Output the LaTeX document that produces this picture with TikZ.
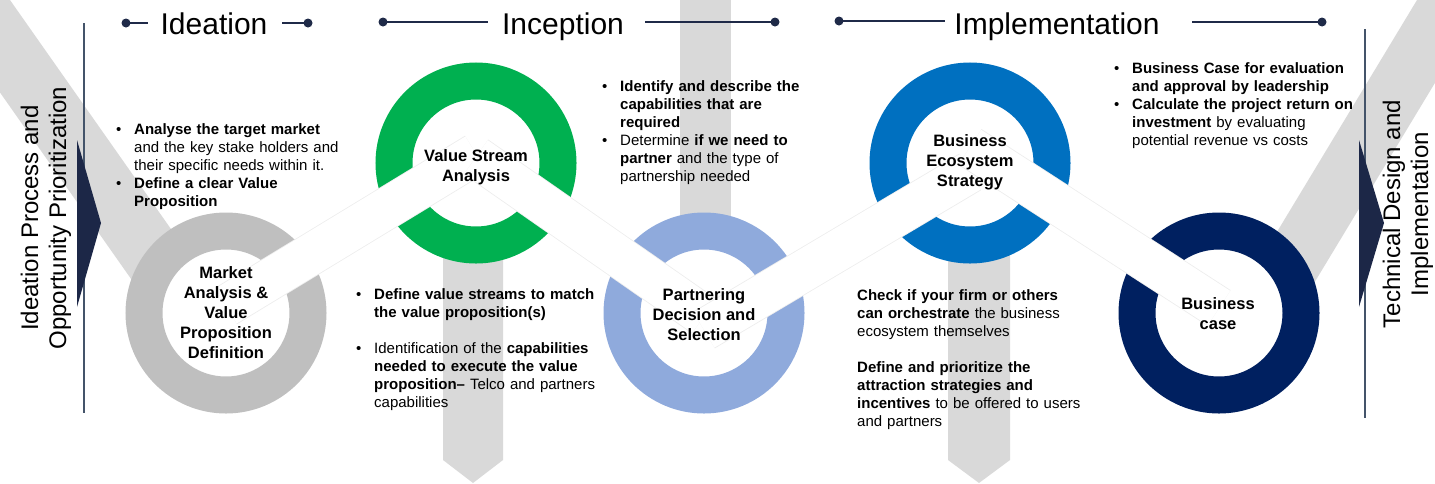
\documentclass[tikz,border=0pt]{standalone}
\usepackage{fontspec}
\setmainfont{Liberation Sans}
\usetikzlibrary{calc}
\usetikzlibrary{positioning}

\definecolor{bandgray}{HTML}{D9D9D9}
\definecolor{ringgray}{HTML}{BFBFBF}
\definecolor{ringgreen}{HTML}{00B050}
\definecolor{ringlight}{HTML}{8FAADC}
\definecolor{ringblue}{HTML}{0070C0}
\definecolor{ringnavy}{HTML}{002060}
\definecolor{navyline}{HTML}{1F2A48}
\definecolor{slateline}{HTML}{44546A}
\definecolor{arrownavy}{HTML}{1C2747}

\newcommand{\bitem}{\noindent\hangindent=18pt\hangafter=1\makebox[18pt][l]{\textbullet}}

\begin{document}
\begin{tikzpicture}
	[x=1pt,y=-1pt,
	every node/.style={inner sep=0pt},
	ringnode/.style={circle, draw=#1, line width=37pt, fill=white, minimum size=164pt},
	ringlabel/.style={font=\fontsize{16.5}{20}\selectfont\bfseries, align=center},
	bullets/.style={anchor=north west, text width=300pt, font=\fontsize{15}{18}\selectfont},
	phase/.style={anchor=base, font=\fontsize{30}{36}\selectfont},
	sidetext/.style={rotate=90, align=center, font=\fontsize{24}{28}\selectfont},
	strip/.style={draw=black!7, line width=0.8pt, double=white, double distance=41pt},
	hline/.style={draw=navyline, line width=1.5pt},
	hdot/.style={circle, fill=navyline, minimum size=9pt},
	sep/.style={draw=slateline, line width=2pt}]
	\useasboundingbox (0,0) rectangle (1435,483);
	\clip (0,0) rectangle (1435,483);

	% gray background bands
	\fill[bandgray] (-65,0) -- (10,0) -- (230,313) -- (155,313) -- cycle;
	\fill[bandgray] (443,163) -- (443,460) -- (473,483) -- (503,460) -- (503,163) -- cycle;
	\fill[bandgray] (680,-1) rectangle (731,313);
	\fill[bandgray] (948,163) -- (948,460) -- (979,483) -- (1010,460) -- (1010,163) -- cycle;
	\fill[bandgray] (1228,313) -- (1417,0) -- (1485,0) -- (1296,313) -- cycle;

	% rings
	\node[ringnode=ringgray] (market) at (226,313) {};
	\node[ringnode=ringgreen] (stream) at (476,163) {};
	\node[ringnode=ringlight] (partner) at (704,313) {};
	\node[ringnode=ringblue] (eco) at (970,163) {};
	\node[ringnode=ringnavy] (bcase) at (1219,313) {};

	% white strips between the rings
	\draw[strip] ($(market)+(0,-7)$) -- ($(stream)+(0,-9)$);
	\draw[strip] ($(stream)+(0,-6)$) -- ($(partner)+(0,3)$);
	\draw[strip] ($(partner)+(0,17)$) -- ($(eco)+(0,9)$);
	\draw[strip] ($(eco)+(0,-16)$) -- ($(bcase)+(0,-5)$);

	\node[ringlabel] (marketlbl) at (226,313) {Market\\Analysis \&\\Value\\Proposition\\Definition};
	\node[ringlabel] (streamlbl) at (476,167) {Value Stream\\Analysis};
	\node[ringlabel] (partnerlbl) at (704,315) {Partnering\\Decision and\\Selection};
	\node[ringlabel] (ecolbl) at (970,162) {Business\\Ecosystem\\Strategy};
	\node[ringlabel] (bcaselbl) at (1218,314) {Business\\case};

	% side markers
	\draw[sep] (84,23) -- (84,413);
	\draw[sep] (1365,29) -- (1365,418);
	\fill[arrownavy] (77,140) -- (101,223) -- (77,307) -- cycle;
	\fill[arrownavy] (1359,140) -- (1384,223) -- (1359,307) -- cycle;
	\node[sidetext] (ideaside) at (46,218) {Ideation Process and\\Opportunity Prioritization};
	\node[sidetext] (techside) at (1408,214) {Technical Design and\\Implementation};

	% phase headers
	\node[phase] (ideation) at (214,34) {Ideation};
	\node[phase] (inception) at (563,34) {Inception};
	\node[phase] (implementation) at (1057,34) {Implementation};
	\node[hdot] (ideaA) at (126,23) {};
	\node[hdot] (ideaB) at (308,23) {};
	\node[hdot] (incA) at (383,22) {};
	\node[hdot] (incB) at (775,22) {};
	\node[hdot] (implA) at (839,21) {};
	\node[hdot] (implB) at (1322,22) {};
	\coordinate (ideaAend) at (148,23);
	\coordinate (ideaBend) at (282,23);
	\coordinate (incAend) at (488,22);
	\coordinate (incBend) at (645,22);
	\coordinate (implAend) at (945,21);
	\coordinate (implBend) at (1192,22);
	\draw[hline] (ideaA.center) -- (ideaAend);
	\draw[hline] (ideaBend) -- (ideaB.center);
	\draw[hline] (incA.center) -- (incAend);
	\draw[hline] (incBend) -- (incB.center);
	\draw[hline] (implA.center) -- (implAend);
	\draw[hline] (implBend) -- (implB.center);

	% text blocks
	\node[bullets] (markettxt) at (116,123) {\bitem\textbf{Analyse the target market}\newline and the key stake holders and\newline their specific needs within it.\par\bitem\textbf{Define a clear Value}\newline\textbf{Proposition}\par};
	\node[bullets] (streamtxt) at (356,288) {\bitem\textbf{Define value streams to match}\newline\textbf{the value proposition(s)}\par\vspace{18pt}\bitem Identification of the \textbf{capabilities}\newline\textbf{needed to execute the value}\newline\textbf{proposition–} Telco and partners\newline capabilities\par};
	\node[bullets] (partnertxt) at (602,80) {\bitem\textbf{Identify and describe the}\newline\textbf{capabilities that are}\newline\textbf{required}\par\bitem Determine \textbf{if we need to}\newline\textbf{partner} and the type of\newline partnership needed\par};
	\node[bullets] (ecotxt) at (857,289) {\noindent\textbf{Check if your firm or others}\newline\textbf{can orchestrate} the business\newline ecosystem themselves\par\vspace{18pt}\noindent\textbf{Define and prioritize the}\newline\textbf{attraction strategies and}\newline\textbf{incentives} to be offered to users\newline and partners\par};
	\node[bullets] (bcasetxt) at (1114,62) {\bitem\textbf{Business Case for evaluation}\newline\textbf{and approval by leadership}\par\bitem\textbf{Calculate the project return on}\newline\textbf{investment} by evaluating\newline potential revenue vs costs\par};
\end{tikzpicture}
\end{document}
